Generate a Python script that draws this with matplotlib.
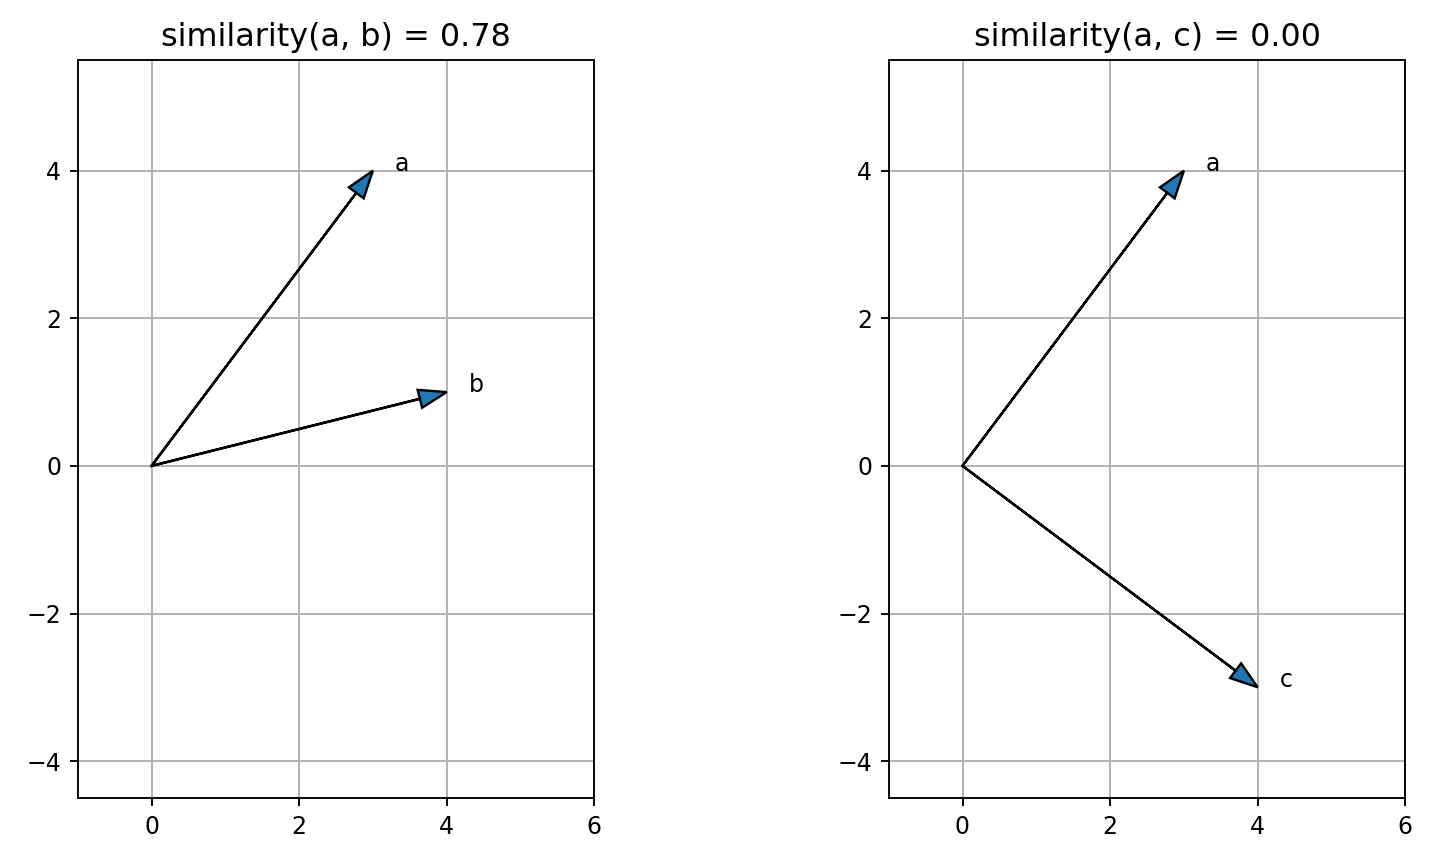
import numpy as np
import matplotlib
matplotlib.use("Agg")
import matplotlib.pyplot as plt

# vectors
a = np.array([3, 4])
b = np.array([4, 1])
c = np.array([4, -3])

pairs = [(("a", a), ("b", b)), (("a", a), ("c", c))]
sims = [0.78, 0.00]

dpi = 170
fig = plt.figure(figsize=(1433 / dpi, 862 / dpi), dpi=dpi)
ax1 = fig.add_axes([77 / 1433, 64 / 862, 518 / 1433, 738 / 862])
ax2 = fig.add_axes([888 / 1433, 64 / 862, 518 / 1433, 738 / 862])

for ax, (p, q), s in zip([ax1, ax2], pairs, sims):
    for label, v in (p, q):
        ax.arrow(0, 0, v[0], v[1], head_width=0.25, length_includes_head=True,
                 facecolor='C0', edgecolor='black', linewidth=1)
        ax.text(v[0] + 0.3, v[1], label)
    ax.set_xlim(-1, 6)
    ax.set_ylim(-4.5, 5.5)
    ax.set_xticks([0, 2, 4, 6])
    ax.set_yticks([-4, -2, 0, 2, 4])
    ax.set_aspect('equal')
    ax.grid(True)
    ax.set_axisbelow(True)
    ax.set_title(f"similarity({p[0]}, {q[0]}) = {s:.2f}", fontsize=13.5)

fig.savefig("out.png", dpi=dpi)
